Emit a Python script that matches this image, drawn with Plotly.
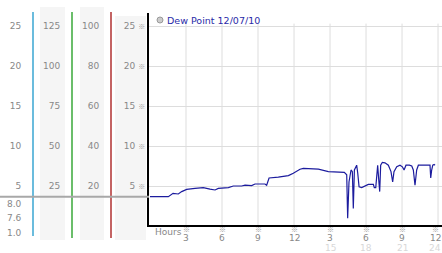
import plotly.graph_objects as go

# ---- data (hours since midnight, dew point) ----
hours = [0, 1.53, 1.92, 2.36, 2.64, 3.06, 3.75, 4.44, 5.0, 5.42, 5.69, 6.53, 6.94, 7.64, 7.92,
         8.47, 8.75, 9.58, 9.72, 9.92, 10.69, 11.53, 11.94, 12.5, 12.78, 13.47, 14.03, 14.86,
         15.83, 16.19, 16.39, 16.47, 16.58, 16.67, 16.75, 16.86, 16.94, 17.03, 17.14, 17.22,
         17.31, 17.42, 17.64, 17.92, 18.19, 18.61, 18.69, 18.81, 18.89, 18.97, 19.06, 19.14,
         19.22, 19.36, 19.58, 19.86, 20.08, 20.22, 20.33, 20.56, 20.83, 21.03, 21.17, 21.33,
         21.61, 21.81, 21.94, 22.08, 22.22, 22.36, 23.33, 23.39, 23.47, 23.56, 23.67, 23.75]
dew = [3.66, 3.66, 4.08, 4.0, 4.3, 4.58, 4.7, 4.8, 4.6, 4.5, 4.7, 4.8, 5.0, 5.0, 5.1,
       5.05, 5.25, 5.25, 5.1, 6.0, 6.1, 6.3, 6.6, 7.1, 7.2, 7.1, 7.1, 6.8,
       6.7, 6.7, 6.4, 0.96, 5.5, 6.4, 7.0, 6.8, 2.2, 7.0, 7.4, 7.6,
       6.6, 4.9, 4.8, 5.05, 5.2, 5.2, 4.8, 4.8, 6.2, 7.6, 5.75, 4.3,
       7.6, 7.96, 7.9, 7.6, 6.8, 5.5, 6.8, 7.4, 7.6, 7.4, 7.0, 7.6,
       7.6, 7.5, 7.0, 5.1, 7.0, 7.6, 7.6, 6.0, 7.0, 7.6, 7.7, 7.6]

series_name = "Dew Point 12/07/10"

x_tickvals = [3, 6, 9, 12, 15, 18, 21, 24]
x_ticktext = ["3", "6", "9", "12", "3", "6", "9", "12"]
x_ticktext2 = ["", "", "", "", "15", "18", "21", "24"]

y_tickvals = [5, 10, 15, 20, 25]
# left-hand scale columns: (scale factor, line colour)
scale_factors = [1, 5, 4]
scale_colors = ["#3aa6d2", "#3aa83a", "#b03030"]
extra_labels = ["8.0", "7.6", "1.0"]

# ---- geometry helpers (pixel -> paper) ----
W, H = 442, 253
MT, MB = 13, 28
PH = H - MT - MB
def xp(px):
    return px / W
def yp(py):
    return (H - MB - py) / PH

GRAY = "#888888"
FONT = "DejaVu Sans"

fig = go.Figure()
fig.add_trace(go.Scatter(x=hours, y=dew, mode="lines",
                         line=dict(color="#1c1c9e", width=1.2), showlegend=False,
                         hoverinfo="skip"))

shapes = []
# grey background bands behind scale columns
for x0, x1, y0 in [(40, 65, 7), (80, 104, 7), (115, 146, 16)]:
    shapes.append(dict(type="rect", xref="paper", yref="paper", x0=xp(x0), x1=xp(x1),
                       y0=yp(240), y1=yp(y0), fillcolor="#f5f5f5", line_width=0, layer="below"))
# coloured axis lines of left scales
line_px = [33, 72, 111]
for px, col, yb in zip(line_px, scale_colors, [236, 238, 238]):
    shapes.append(dict(type="line", xref="paper", yref="paper", x0=xp(px), x1=xp(px),
                       y0=yp(yb), y1=yp(12), line=dict(color=col, width=1.5)))
# vertical grid lines
for v in x_tickvals:
    shapes.append(dict(type="line", xref="x", yref="y", x0=v, x1=v, y0=0.125, y1=25.3,
                       line=dict(color="#dddddd", width=1), layer="below"))
# grey reference line at first reading
shapes.append(dict(type="line", xref="paper", yref="y", x0=0, x1=xp(149), y0=dew[0], y1=dew[0],
                   line=dict(color="#a8a8a8", width=2)))
# legend dot
shapes.append(dict(type="circle", xref="paper", yref="paper", x0=xp(157), x1=xp(163),
                   y0=yp(23), y1=yp(17), fillcolor="#cccccc", line=dict(color="#999999", width=1)))

annotations = []
annotations.append(dict(text=series_name, xref="paper", yref="paper", x=xp(165), y=yp(20),
                        xanchor="left", yanchor="middle", showarrow=False,
                        font=dict(family=FONT, size=9.5, color="#2a2aa8")))
annotations.append(dict(text="Hours", xref="paper", yref="paper", x=xp(153), y=yp(232),
                        xanchor="left", yanchor="middle", showarrow=False,
                        font=dict(family=FONT, size=9, color=GRAY)))
for i, (v, t, t2) in enumerate(zip(x_tickvals, x_ticktext, x_ticktext2)):
    shift = -3 if i == len(x_tickvals) - 1 else 0
    annotations.append(dict(text="※", xref="x", yref="paper", x=v, y=yp(229.5),
                            xanchor="center", yanchor="middle", showarrow=False, xshift=shift,
                            font=dict(family="Noto Sans CJK SC", size=7, color="#999999")))
    annotations.append(dict(text=t, xref="x", yref="paper", x=v, y=yp(238),
                            xanchor="center", yanchor="middle", showarrow=False, xshift=shift,
                            font=dict(family=FONT, size=9, color=GRAY)))
    if t2:
        annotations.append(dict(text=t2, xref="x", yref="paper", x=v, y=yp(247.5),
                                xanchor="center", yanchor="middle", showarrow=False, xshift=shift,
                                font=dict(family=FONT, size=9, color="#d8d8d8")))
for i, t in enumerate(extra_labels):
    annotations.append(dict(text=t, xref="paper", yref="paper", x=xp(24), y=yp(204 + i * 14.3),
                            xanchor="right", yanchor="middle", showarrow=False,
                            font=dict(family=FONT, size=9, color=GRAY)))

layout = dict(
    width=W, height=H, margin=dict(l=0, r=0, t=MT, b=MB),
    paper_bgcolor="white", plot_bgcolor="white",
    font=dict(family=FONT, size=9, color=GRAY),
    showlegend=False,
    xaxis=dict(domain=[xp(149), 1], range=[-0.083, 24.33], showgrid=False, zeroline=False,
               showticklabels=False, ticks="", showline=True, linecolor="black", linewidth=2,
               fixedrange=True),
    yaxis=dict(range=[0.125, 26.625], tickvals=y_tickvals,
               ticktext=[f"{v} <span style='font-family:Noto Sans CJK SC;font-size:7px;color:#999'>※</span>"
                         for v in y_tickvals],
               showgrid=True, gridcolor="#dddddd", gridwidth=1, zeroline=False,
               showline=True, linecolor="black", linewidth=2, ticks="",
               tickfont=dict(family=FONT, size=9, color=GRAY)),
    shapes=shapes, annotations=annotations,
)
for i, (f, px) in enumerate(zip(scale_factors, line_px)):
    layout[f"yaxis{i + 2}"] = dict(
        overlaying="y", anchor="free", position=xp(px), side="left",
        range=[0.125 * f, 26.625 * f], tickvals=[v * f for v in y_tickvals],
        showgrid=False, zeroline=False, showline=False,
        ticks="outside", ticklen=10, tickcolor="rgba(0,0,0,0)",
        tickfont=dict(family=FONT, size=9, color=GRAY))
    fig.add_trace(go.Scatter(x=[None], y=[None], yaxis=f"y{i + 2}", showlegend=False))

fig.update_layout(**layout)
fig.write_html("out.html")
